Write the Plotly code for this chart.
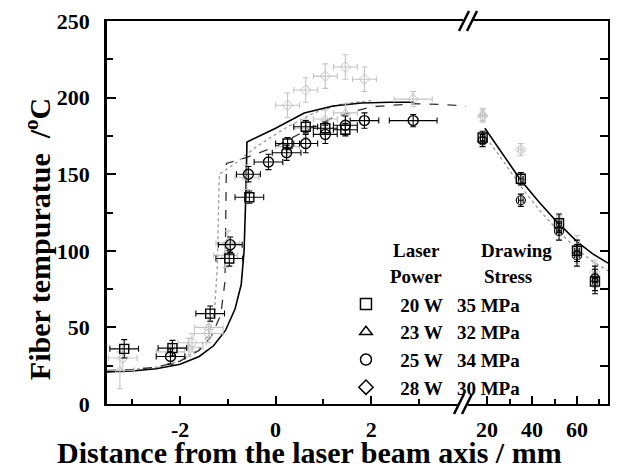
import plotly.graph_objects as go

FONT = "Liberation Serif"

# ---------------- data ----------------
# near section (x in mm, left panel)
sq_x_near = [-3.17, -2.16, -1.37, -0.97, -0.55, 0.25, 0.63, 1.04, 1.46]
sq_y_near = [36, 36.5, 59, 95, 135, 170, 181, 180, 179]
sq_xe_near = [0.3, 0.3, 0.3, 0.28, 0.3, 0.25, 0.25, 0.25, 0.25]
sq_ye_near = [6, 5, 5, 5, 4, 4, 4, 4, 4]

ci_x_near = [-2.2, -0.95, -0.57, -0.15, 0.23, 0.63, 1.04, 1.46, 1.86, 2.88]
ci_y_near = [31, 104, 150, 158, 164, 170, 176, 182, 185, 185]
ci_xe_near = [0.3, 0.25, 0.25, 0.3, 0.3, 0.25, 0.25, 0.25, 0.3, 0.5]
ci_ye_near = [5, 5, 5, 5, 5, 6, 6, 6, 5, 4]

tr_x_near = [-3.26, -1.82, -1.4, -1.05, -0.6, 0.25, 0.63, 1.04, 1.46]
tr_y_near = [22, 37, 50, 97, 148, 168, 180, 186, 190]
tr_xe_near = [0.3, 0.3, 0.3, 0.25, 0.25, 0.25, 0.25, 0.25, 0.25]
tr_ye_near = [12, 6, 6, 8, 8, 6, 6, 6, 6]

di_x_near = [-3.2, -2.2, -1.75, -1.4, -1.0, 0.25, 0.63, 1.04, 1.46, 1.86, 2.88]
di_y_near = [30, 34, 40, 46, 105, 195, 205, 214, 220, 212, 199]
di_xe_near = [0.3, 0.3, 0.3, 0.3, 0.25, 0.25, 0.25, 0.25, 0.25, 0.25, 0.4]
di_ye_near = [8, 6, 6, 6, 8, 8, 8, 8, 8, 8, 5]

# far section (x in mm, right panel)
far_x = [18, 35, 52, 60, 68]
sq_y_far = [174, 147, 118, 100, 80]
ci_y_far = [172, 133, 113, 97, 82]
tr_y_far = [189, 147, 116, 103, 84]
di_y_far = [188, 166, 117, 99, 86]
far_xe = [1, 1, 1, 1, 1]
far_ye = [4, 4, 6, 7, 8]

# model curves
solid_x = [-3.53, -3.0, -2.5, -2.0, -1.6, -1.3, -1.05, -0.85, -0.72, -0.66, -0.62, -0.6, 0.0, 0.6, 1.2, 1.8, 2.4, 2.9]
solid_y = [21, 21.5, 23, 26, 31, 38, 48, 62, 78, 100, 140, 171, 180, 190, 194.5, 196.5, 197, 197]
dash_x = [-3.53, -3.0, -2.5, -2.0, -1.6, -1.35, -1.15, -1.06, -1.03, -0.6, 0.0, 0.6, 1.2, 2.0, 2.9, 3.5, 3.98]
dash_y = [22, 22.5, 24, 28, 35, 44, 58, 80, 157, 161, 168, 178, 187, 194, 196, 195.5, 194.5]
dot_x = [-3.53, -2.5, -2.0, -1.6, -1.4, -1.28, -1.22, -1.18, -0.8, -0.4, 0.2, 0.8, 1.4, 2.0]
dot_y = [21, 24, 28, 36, 46, 60, 90, 150, 158, 168, 180, 190, 196, 198]

solid_far_x = [19, 27, 35, 43, 51, 60, 67, 73.8]
solid_far_y = [180, 163, 146, 132, 119, 106, 98, 92]
dot_far_x = [18, 27, 35, 43, 51, 60, 67, 73.8]
dot_far_y = [177, 159, 142, 127, 114, 101, 93, 87]

x_ticks_near = [-2, 0, 2]
x_labels_near = ["-2", "0", "2"]

legend_symbols = ["square-open", "triangle-up-open", "circle-open", "diamond-open"]
legend_power = ["20 W", "23 W", "25 W", "28 W"]
legend_stress = ["35 MPa", "32 MPa", "34 MPa", "30 MPa"]

# ---------------- figure ----------------
fig = go.Figure()

BLACK = "black"
GREY = "#c4c4c4"


def ebar(arr, color, w=3, th=1.1):
    return dict(type="data", array=arr, visible=True, color=color, thickness=th, width=w)


fig.add_trace(go.Scatter(x=dot_x, y=dot_y, mode="lines", line=dict(color="#9a9a9a", width=1.3, dash="dot"),
                         showlegend=False, xaxis="x", yaxis="y"))
fig.add_trace(go.Scatter(x=dash_x, y=dash_y, mode="lines", line=dict(color="#333333", width=1.3, dash="dash"),
                         showlegend=False, xaxis="x", yaxis="y"))
fig.add_trace(go.Scatter(x=solid_x, y=solid_y, mode="lines", line=dict(color=BLACK, width=1.6),
                         showlegend=False, xaxis="x", yaxis="y"))
fig.add_trace(go.Scatter(x=dot_far_x, y=dot_far_y, mode="lines", line=dict(color="#9a9a9a", width=1.3, dash="dot"),
                         showlegend=False, xaxis="x2", yaxis="y2"))
fig.add_trace(go.Scatter(x=solid_far_x, y=solid_far_y, mode="lines", line=dict(color=BLACK, width=1.6),
                         showlegend=False, xaxis="x2", yaxis="y2"))

for xs, ys, xe, ye, sym in [(tr_x_near, tr_y_near, tr_xe_near, tr_ye_near, "triangle-up-open"),
                             (di_x_near, di_y_near, di_xe_near, di_ye_near, "diamond-open")]:
    fig.add_trace(go.Scatter(x=xs, y=ys, mode="markers",
                             marker=dict(symbol=sym, size=8, color=GREY, line=dict(width=1, color=GREY)),
                             error_x=ebar(xe, GREY), error_y=ebar(ye, GREY),
                             showlegend=False, xaxis="x", yaxis="y"))
for ys, sym in [(tr_y_far, "triangle-up-open"), (di_y_far, "diamond-open")]:
    fig.add_trace(go.Scatter(x=far_x, y=ys, mode="markers",
                             marker=dict(symbol=sym, size=8, color=GREY, line=dict(width=1, color=GREY)),
                             error_x=ebar(far_xe, GREY), error_y=ebar(far_ye, GREY),
                             showlegend=False, xaxis="x2", yaxis="y2"))

fig.add_trace(go.Scatter(x=sq_x_near, y=sq_y_near, mode="markers",
                         marker=dict(symbol="square-open", size=9, color=BLACK, line=dict(width=1.4, color=BLACK)),
                         error_x=ebar(sq_xe_near, BLACK), error_y=ebar(sq_ye_near, BLACK),
                         showlegend=False, xaxis="x", yaxis="y"))
fig.add_trace(go.Scatter(x=ci_x_near, y=ci_y_near, mode="markers",
                         marker=dict(symbol="circle-open", size=10, color=BLACK, line=dict(width=1.4, color=BLACK)),
                         error_x=ebar(ci_xe_near, BLACK), error_y=ebar(ci_ye_near, BLACK),
                         showlegend=False, xaxis="x", yaxis="y"))
fig.add_trace(go.Scatter(x=far_x, y=sq_y_far, mode="markers",
                         marker=dict(symbol="square-open", size=9, color=BLACK, line=dict(width=1.4, color=BLACK)),
                         error_x=ebar(far_xe, BLACK), error_y=ebar(far_ye, BLACK),
                         showlegend=False, xaxis="x2", yaxis="y2"))
fig.add_trace(go.Scatter(x=far_x, y=ci_y_far, mode="markers",
                         marker=dict(symbol="circle-open", size=9, color=BLACK, line=dict(width=1.2, color=BLACK)),
                         error_x=ebar(far_xe, BLACK), error_y=ebar(far_ye, BLACK),
                         showlegend=False, xaxis="x2", yaxis="y2"))

NB = "&nbsp;"
for sym, p, s in zip(legend_symbols, legend_power, legend_stress):
    fig.add_trace(go.Scatter(x=[None], y=[None], mode="markers", name=NB * 3 + p + NB * 3 + s,
                             marker=dict(symbol=sym, size=11, color=BLACK, line=dict(width=1.5, color=BLACK)),
                             xaxis="x", yaxis="y"))

BREAK = 0.717
tickfont = dict(family=FONT, size=22, color=BLACK, weight="bold")


def axis(**kw):
    d = dict(showline=True, linecolor=BLACK, linewidth=2, ticks="inside", tickcolor=BLACK,
             tickwidth=2, showgrid=False, zeroline=False, tickfont=tickfont, tickmode="linear")
    d.update(kw)
    return d


fig.update_layout(
    width=610, height=462,
    margin=dict(l=99, r=10, t=13, b=66, autoexpand=False),
    paper_bgcolor="white", plot_bgcolor="white",
    font=dict(family=FONT, color=BLACK),
    xaxis=axis(domain=[0, BREAK], range=[-3.53, 3.99], tickmode="array", tickvals=x_ticks_near,
               ticktext=x_labels_near, ticklen=8,
               minor=dict(tickmode="linear", tick0=1, dtick=1, ticks="inside", ticklen=5,
                          tickcolor=BLACK, tickwidth=2),
               mirror=True, anchor="y", ticklabelstandoff=5),
    xaxis2=axis(domain=[BREAK, 1], range=[10.7, 73.8], tick0=0, dtick=20, ticklen=8,
                minor=dict(dtick=10, ticks="inside", ticklen=5, tickcolor=BLACK, tickwidth=2),
                mirror=True, anchor="y2", ticklabelstandoff=5),
    yaxis=axis(domain=[0, 1], range=[0, 250], tick0=0, dtick=50, ticklen=9, linewidth=2.5,
               minor=dict(dtick=25, ticks="inside", ticklen=6, tickcolor=BLACK, tickwidth=2),
               anchor="x", ticklabelstandoff=10),
    yaxis2=axis(domain=[0, 1], range=[0, 250], tick0=0, dtick=50, ticklen=8, side="right", linewidth=2.5,
                minor=dict(dtick=25, ticks="inside", ticklen=8, tickcolor=BLACK, tickwidth=2),
                showticklabels=False, anchor="x2"),
    legend=dict(x=0.477, y=0.31, xanchor="left", yanchor="top", bgcolor="rgba(0,0,0,0)",
                font=dict(family=FONT, size=19, color=BLACK, weight="bold"),
                tracegroupgap=0),
    showlegend=True,
)


# axis-break marks (pixel geometry of the window converted to paper units)
def px2paper(px, py):
    return (px - 107) / 501.0, (404 - py) / 383.0


shapes = []
for cx, cy in [(468, 21), (463, 404)]:
    x0, y0 = px2paper(cx - 5, cy - 3)
    x1, y1 = px2paper(cx + 5, cy + 3)
    shapes.append(dict(type="rect", xref="paper", yref="paper", x0=x0, x1=x1, y0=y0, y1=y1,
                       fillcolor="white", line=dict(width=0), layer="above"))
    for dx in (-4, 4):
        a = px2paper(cx + dx - 5, cy + 10)
        b = px2paper(cx + dx + 5, cy - 10)
        shapes.append(dict(type="line", xref="paper", yref="paper", x0=a[0], y0=a[1], x1=b[0], y1=b[1],
                           line=dict(color=BLACK, width=2.5), layer="above"))
fig.update_layout(shapes=shapes)

ann_font = dict(family=FONT, size=19, color=BLACK, weight="bold")


def ann(text, x, y, font, **kw):
    d = dict(text=text, x=x, y=y, xref="paper", yref="paper", showarrow=False, font=font,
             xanchor="center", yanchor="middle")
    d.update(kw)
    return d


big = dict(family=FONT, size=30, color=BLACK, weight="bold")
annotations = [
    ann("Laser", 0.617, 0.402, ann_font),
    ann("Power", 0.617, 0.334, ann_font),
    ann("Drawing", 0.818, 0.402, ann_font),
    ann("Stress", 0.800, 0.334, ann_font),
    ann("Distance from the laser beam axis / mm", 0.405, -0.127, big),
    ann("Fiber tempuratue  /<sup>o</sup>C", -0.138, 0.43, big, textangle=-90),
]
fig.update_layout(annotations=annotations)

fig.write_html("out.html")
